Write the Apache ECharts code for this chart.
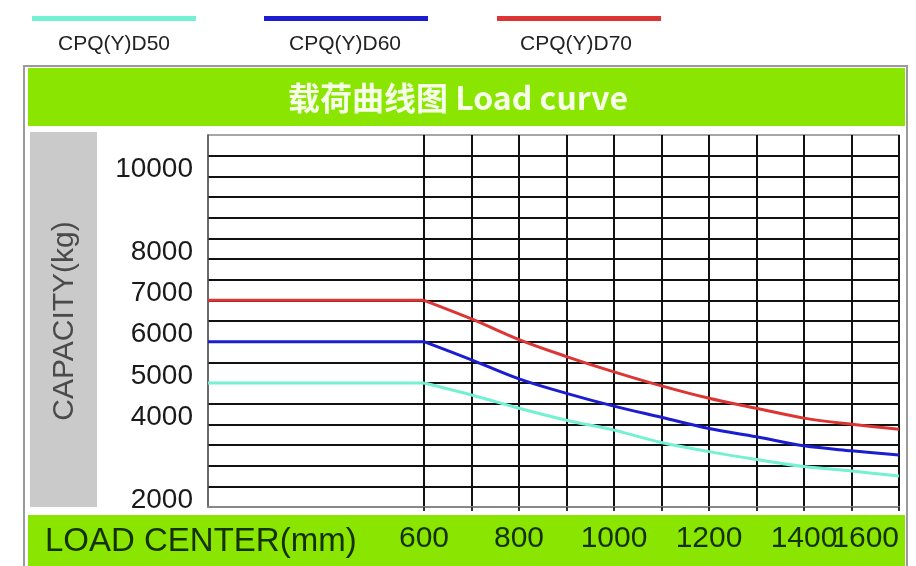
<!DOCTYPE html>
<html><head><meta charset="utf-8">
<script src="https://cdn.jsdelivr.net/npm/echarts@6/dist/echarts.min.js"></script>
<style>html,body{margin:0;padding:0;background:#fff}#c{width:916px;height:566px}</style>
</head><body><div id="c"></div>
<script>
// ---- data ----
const seriesNames = ['CPQ(Y)D50', 'CPQ(Y)D60', 'CPQ(Y)D70'];
const loadCenters = [600, 700, 800, 900, 1000, 1100, 1200, 1300, 1400, 1500, 1600];
const flatRange = [0, 600];
const capD50 = [5000, 4710, 4390, 4100, 3860, 3560, 3340, 3150, 2980, 2870, 2750];
const capD60 = [6000, 5560, 5100, 4750, 4440, 4170, 3900, 3700, 3480, 3360, 3260];
const capD70 = [7000, 6550, 6050, 5640, 5270, 4930, 4630, 4390, 4150, 4000, 3880];
const yTickLabels = [2000, 4000, 5000, 6000, 7000, 8000, 10000];
const xTickLabels = [600, 800, 1000, 1200, 1400, 1600];
const xAxisName = 'LOAD CENTER(mm)';
const yAxisName = 'CAPACITY(kg)';
const chartTitle = '载荷曲线图 Load curve';

// ---- styles ----
const seriesColors = ['#74f0d3', '#1c1cd0', '#dd3434'];
const GREEN = '#8ae600';
const SANS = "'Liberation Sans', Arial, sans-serif";
const caps = [capD50, capD60, capD70];

const iconLefts = [32, 264, 497];
const textCenters = [114, 345, 576];
const legendFont = 21;

const legends = [];
seriesNames.forEach((n, i) => {
  legends.push({
    data: [n], left: iconLefts[i], top: 16, padding: 0,
    icon: 'rect', itemWidth: 164, itemHeight: 5,
    formatter: () => '', textStyle: { fontSize: 1 }
  });
  legends.push({
    data: [n], left: textCenters[i] - 56 - 5, top: 34, padding: 0,
    icon: 'rect', itemWidth: 0, itemHeight: 0,
    textStyle: { fontSize: legendFont, color: '#222', fontFamily: SANS }
  });
});

const series = [];
seriesNames.forEach((n, i) => {
  series.push({
    name: n, type: 'line', xAxisIndex: 0, yAxisIndex: 0,
    symbol: 'none', color: seriesColors[i],
    lineStyle: { width: 3, color: seriesColors[i] },
    data: flatRange.map(x => [x, caps[i][0]])
  });
  series.push({
    name: n, type: 'line', xAxisIndex: 1, yAxisIndex: 1,
    symbol: 'none', smooth: 0.35, color: seriesColors[i],
    lineStyle: { width: 3, color: seriesColors[i] },
    data: loadCenters.map((x, j) => [x, caps[i][j]])
  });
});

const ySplit = { show: true, showMinLine: false, showMaxLine: false, lineStyle: { color: '#111', width: 2 } };

const option = {
  animation: false,
  backgroundColor: '#fff',
  graphic: [
    { type: 'rect', z: -10, silent: true, shape: { x: 24, y: 66, width: 883, height: 520 }, style: { fill: '#fff', stroke: '#9a9a9a', lineWidth: 2 } },
    { type: 'rect', z: -9, silent: true, shape: { x: 28, y: 68, width: 877, height: 58 }, style: { fill: GREEN } },
    { type: 'rect', z: -9, silent: true, shape: { x: 30, y: 132, width: 67, height: 375 }, style: { fill: '#cacaca' } },
    { type: 'rect', z: -9, silent: true, shape: { x: 28, y: 515, width: 877, height: 51 }, style: { fill: GREEN } },
    { type: 'text', z: 5, silent: true, x: 45, y: 542,
      style: { text: xAxisName, fontSize: 33, fontFamily: SANS, fill: '#143200', align: 'left', verticalAlign: 'middle' } }
  ],
  title: {
    text: chartTitle, left: 'center', top: 82, padding: 0,
    textStyle: { color: '#f6ffe8', fontSize: 32, fontWeight: 'bold', fontFamily: "'Noto Sans CJK SC', sans-serif" }
  },
  legend: legends,
  grid: [
    { left: 208, top: 135, width: 216, bottom: 59, show: true, borderColor: '#8a8a8a', borderWidth: 1.5, outerBoundsMode: 'none', containLabel: false },
    { left: 424, top: 135, right: 17, bottom: 59, show: true, borderColor: '#8a8a8a', borderWidth: 1.5, outerBoundsMode: 'none', containLabel: false }
  ],
  xAxis: [
    {
      type: 'value', gridIndex: 0, min: flatRange[0], max: flatRange[1],
      axisLabel: { show: false }, axisTick: { show: false }, splitLine: { show: false },
      axisLine: { show: true, lineStyle: { color: '#888', width: 2 } }
    },
    {
      type: 'value', gridIndex: 1, min: 600, max: 1600, interval: 100,
      axisLine: { show: true, lineStyle: { color: '#888', width: 2 } },
      axisTick: { show: true, length: 4, lineStyle: { color: '#333', width: 2 } },
      axisLabel: {
        formatter: v => xTickLabels.includes(v) ? String(v) : '',
        margin: 17, fontSize: 30, fontFamily: SANS, color: '#143200',
        alignMaxLabel: 'right', hideOverlap: false
      },
      splitLine: { show: true, lineStyle: { color: '#111', width: 2 } }
    }
  ],
  yAxis: [
    {
      type: 'value', gridIndex: 0, min: 2000, max: 11000, interval: 500,
      axisLine: { show: true, lineStyle: { color: '#555', width: 1.5 } },
      axisTick: { show: false },
      axisLabel: {
        formatter: v => yTickLabels.includes(v) ? String(v) : '',
        fontSize: 28, color: '#1a1a1a', margin: 15, fontFamily: SANS,
        verticalAlign: 'bottom', lineHeight: 14
      },
      splitLine: ySplit,
      name: yAxisName, nameLocation: 'middle', nameRotate: 90, nameGap: 128,
      nameTextStyle: { fontSize: 30, color: '#4a4a4a', fontFamily: SANS }
    },
    {
      type: 'value', gridIndex: 1, min: 2000, max: 11000, interval: 500,
      axisLine: { show: false }, axisTick: { show: false }, axisLabel: { show: false },
      splitLine: ySplit
    }
  ],
  series: series
};

const chart = echarts.init(document.getElementById('c'), null, { renderer: 'canvas' });
chart.setOption(option);
</script>
</body></html>
